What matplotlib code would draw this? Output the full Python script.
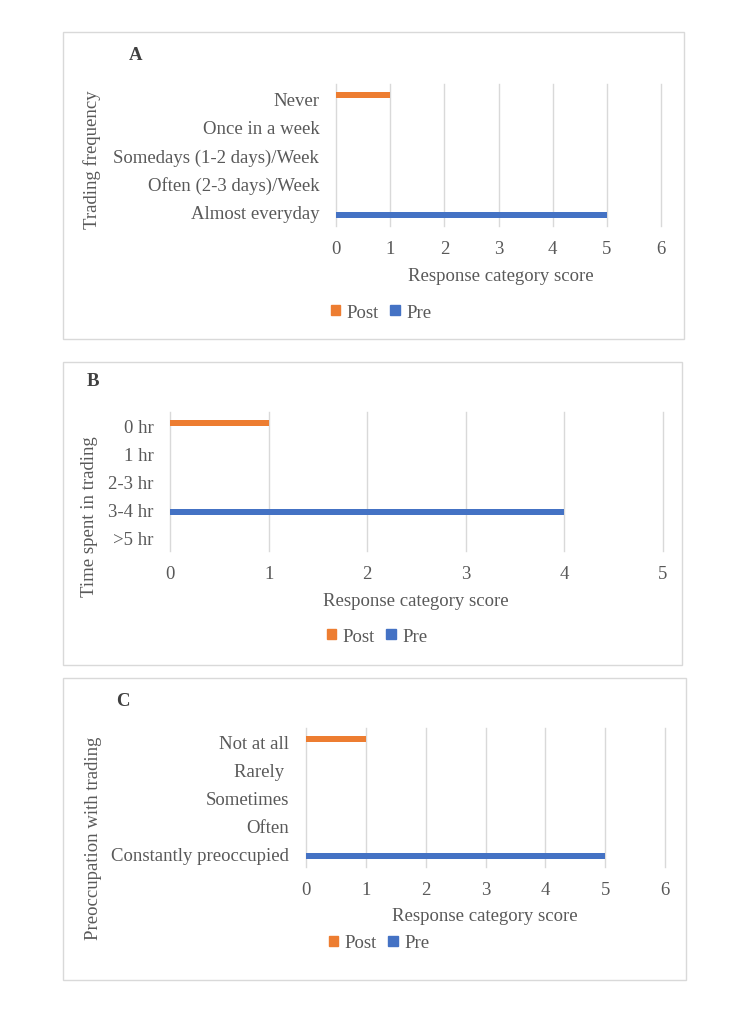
import numpy as np
import matplotlib.pyplot as plt
from matplotlib.patches import Rectangle, Patch

# panel A - trading frequency
freq_labels = ["Never", "Once in a week", "Somedays (1-2 days)/Week",
               "Often (2-3 days)/Week", "Almost everyday"]
freq_post = [1, 0, 0, 0, 0]
freq_pre = [0, 0, 0, 0, 5]

# panel B - time spent in trading
time_labels = ["0 hr", "1 hr", "2-3 hr", "3-4 hr", ">5 hr"]
time_post = [1, 0, 0, 0, 0]
time_pre = [0, 0, 0, 4, 0]

# panel C - preoccupation with trading
preoc_labels = ["Not at all", "Rarely ", "Sometimes", "Often",
                "Constantly preoccupied"]
preoc_post = [1, 0, 0, 0, 0]
preoc_pre = [0, 0, 0, 0, 5]

W, H = 750, 1012
TEXT = "#595959"
GRID = "#D9D9D9"
ORANGE = "#ED7D31"
BLUE = "#4472C4"
FS = 13.5

plt.rcParams["font.family"] = ["Liberation Serif", "DejaVu Serif"]

fig = plt.figure(figsize=(W / 100, H / 100), dpi=100)


def fx(x):
    return x / W


def fy(y):
    return 1 - y / H


def panel(box, ax_px, letter, letter_xy, labels, post, pre, xmax,
          ylabel, ylabel_xy, xlabel_xy, legend_xy):
    # outer box of the chart
    x0, y0, x1, y1 = box
    fig.patches.append(Rectangle((fx(x0), fy(y1)), fx(x1) - fx(x0),
                                 fy(y0) - fy(y1), transform=fig.transFigure,
                                 fill=False, edgecolor=GRID, linewidth=1.0))

    l, t, r, b = ax_px
    ax = fig.add_axes([fx(l), fy(b), fx(r) - fx(l), fy(t) - fy(b)])

    y = np.arange(len(labels))
    h = 0.21
    ax.barh(y - h / 2, post, height=h, color=ORANGE, label="Post")
    ax.barh(y + h / 2, pre, height=h, color=BLUE, label="Pre")

    ax.set_xlim(0, xmax)
    ax.set_ylim(len(labels) - 0.5, -0.5)
    ax.set_xticks(range(xmax + 1))
    ax.set_yticks(y)
    ax.set_yticklabels(labels)
    ax.tick_params(axis="y", length=0, pad=12, labelsize=FS, labelcolor=TEXT)
    ax.tick_params(axis="x", length=0, pad=10, labelsize=FS, labelcolor=TEXT)
    for s in ax.spines.values():
        s.set_visible(False)
    ax.grid(axis="x", color=GRID, linewidth=1.0)
    for gl in ax.get_xgridlines():
        gl.set_clip_on(False)
    ax.set_axisbelow(True)

    fig.text(fx(letter_xy[0]), fy(letter_xy[1]), letter, fontsize=FS,
             fontweight="bold", color="#404040", ha="center", va="center")
    fig.text(fx(ylabel_xy[0]), fy(ylabel_xy[1]), ylabel, fontsize=FS,
             color=TEXT, rotation=90, ha="center", va="center")
    fig.text(fx(xlabel_xy[0]), fy(xlabel_xy[1]), "Response category score",
             fontsize=FS, color=TEXT, ha="center", va="center")

    handles = [Patch(color=ORANGE, label="Post"), Patch(color=BLUE, label="Pre")]
    fig.legend(handles=handles, loc="center",
               bbox_to_anchor=(fx(legend_xy[0]), fy(legend_xy[1])),
               ncol=2, frameon=False, fontsize=FS, labelcolor=TEXT,
               handlelength=0.5, handleheight=0.5, handletextpad=0.35,
               columnspacing=0.6, borderpad=0, borderaxespad=0)
    return ax


panel((63, 33, 684, 340), (336, 85, 661, 227), "A", (136, 55),
      freq_labels, freq_post, freq_pre, 6,
      "Trading frequency", (92, 160), (501, 277), (381, 313))

panel((63, 363, 682, 666), (170, 413, 663, 552), "B", (93, 382),
      time_labels, time_post, time_pre, 5,
      "Time spent in trading", (89, 517), (416, 602), (377, 637))

panel((63, 679, 686, 981), (306, 729, 665, 868), "C", (123, 701),
      preoc_labels, preoc_post, preoc_pre, 6,
      "Preoccupation with trading", (93, 838), (485, 917), (379, 944))

fig.savefig("out.png", dpi=100)
plt.close(fig)
